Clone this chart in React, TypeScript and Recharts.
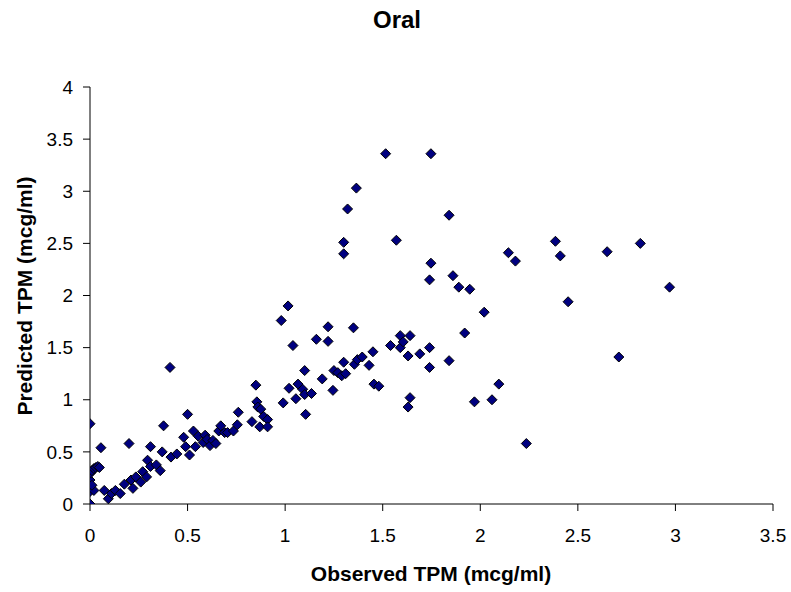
import React from "react";
import { ScatterChart, Scatter, XAxis, YAxis } from "recharts";

const observed = [
  0, 0, 0, 0, 0.005, 0.01, 0.02, 0.03, 0.04, 0.02, 0.01, 0.048, 0.056, 0.073, 0.094, 0.11, 0.13, 0.155, 0.176, 0.2,
  0.21, 0.22, 0.235, 0.26, 0.27, 0.29, 0.295, 0.31, 0.31, 0.34, 0.36, 0.377, 0.37, 0.41, 0.415, 0.445, 0.48, 0.49, 0.5, 0.51,
  0.53, 0.54, 0.555, 0.58, 0.59, 0.6, 0.615, 0.63, 0.645, 0.66, 0.67, 0.69, 0.705, 0.735, 0.755, 0.76, 0.83, 0.85, 0.855, 0.86,
  0.87, 0.875, 0.89, 0.91, 0.91, 0.98, 0.99, 1.015, 1.02, 1.04, 1.055, 1.066, 1.09, 1.1, 1.105, 1.1, 1.135, 1.16, 1.19, 1.22,
  1.22, 1.245, 1.25, 1.27, 1.29, 1.3, 1.31, 1.3, 1.3, 1.32, 1.35, 1.355, 1.365, 1.37, 1.395, 1.43, 1.45, 1.455, 1.48, 1.515,
  1.54, 1.57, 1.59, 1.59, 1.605, 1.63, 1.63, 1.64, 1.64, 1.69, 1.74, 1.74, 1.74, 1.747, 1.747, 1.84, 1.84, 1.86, 1.89, 1.92,
  1.946, 1.97, 2.02, 2.06, 2.095, 2.144, 2.18, 2.236, 2.385, 2.41, 2.45, 2.65, 2.71, 2.82, 2.97,
];
const predicted = [
  0, 0.77, 0.12, 0.23, 0.3, 0.32, 0.34, 0.35, 0.36, 0.13, 0.18, 0.35, 0.54, 0.13, 0.05, 0.1, 0.13, 0.1, 0.19, 0.58,
  0.23, 0.15, 0.26, 0.21, 0.31, 0.26, 0.42, 0.55, 0.36, 0.375, 0.32, 0.75, 0.5, 1.31, 0.45, 0.48, 0.64, 0.55, 0.86, 0.47,
  0.7, 0.55, 0.65, 0.59, 0.66, 0.62, 0.56, 0.61, 0.58, 0.7, 0.75, 0.685, 0.685, 0.7, 0.76, 0.88, 0.79, 1.14, 0.98, 0.93,
  0.74, 0.91, 0.84, 0.81, 0.74, 1.76, 0.97, 1.9, 1.11, 1.52, 1.01, 1.15, 1.1, 1.05, 0.86, 1.28, 1.06, 1.58, 1.2, 1.7,
  1.56, 1.09, 1.28, 1.26, 1.23, 1.36, 1.25, 2.51, 2.4, 2.83, 1.69, 1.34, 3.03, 1.385, 1.41, 1.33, 1.46, 1.15, 1.13, 3.36,
  1.52, 2.53, 1.5, 1.615, 1.555, 1.42, 0.93, 1.615, 1.02, 1.44, 2.15, 1.5, 1.31, 3.36, 2.31, 2.77, 1.375, 2.19, 2.08, 1.64,
  2.06, 0.98, 1.84, 1.0, 1.15, 2.41, 2.33, 0.58, 2.52, 2.38, 1.94, 2.42, 1.41, 2.5, 2.08,
];
const xTicks = [0, 0.5, 1, 1.5, 2, 2.5, 3, 3.5];
const yTicks = [0, 0.5, 1, 1.5, 2, 2.5, 3, 3.5, 4];
const title = "Oral";
const xLabel = "Observed TPM (mcg/ml)";
const yLabel = "Predicted TPM (mcg/ml)";

const data = observed.map((x, i) => ({ x, y: predicted[i] }));

const FONT = "'Liberation Sans', Arial, sans-serif";

const Diamond = (props: any) => {
  const { cx, cy } = props;
  if (cx == null || cy == null) return null;
  const r = 5;
  return (
    <path
      d={`M${cx},${cy - r}L${cx + r},${cy}L${cx},${cy + r}L${cx - r},${cy}Z`}
      fill="#000080"
      stroke="#000000"
      strokeWidth={1}
    />
  );
};

export default function App() {
  return (
    <div style={{ position: "absolute", left: 0, top: 0, width: 791, height: 592, background: "#fff", fontFamily: FONT }}>
      <ScatterChart width={791} height={592} margin={{ top: 87, right: 18, bottom: 0, left: 0 }}>
        <XAxis
          type="number"
          dataKey="x"
          domain={[0, 3.5]}
          ticks={xTicks}
          height={88}
          tickSize={7}
          tickMargin={18}
          stroke="#000"
          tick={{ fill: "#000", fontSize: 19, fontFamily: FONT }}
          allowDataOverflow
        />
        <YAxis
          type="number"
          dataKey="y"
          domain={[0, 4]}
          ticks={yTicks}
          width={90}
          tickSize={7}
          tickMargin={10}
          stroke="#000"
          tick={{ fill: "#000", fontSize: 19, fontFamily: FONT }}
          allowDataOverflow
        />
        <Scatter data={data} shape={Diamond} isAnimationActive={false} />
      </ScatterChart>
      <div style={{ position: "absolute", left: 197, width: 400, top: 6, textAlign: "center", fontWeight: "bold", fontSize: 24, lineHeight: "28px" }}>
        {title}
      </div>
      <div style={{ position: "absolute", left: 231, width: 400, top: 562, textAlign: "center", fontWeight: "bold", fontSize: 21, lineHeight: "24px" }}>
        {xLabel}
      </div>
      <div
        style={{
          position: "absolute",
          left: 25 - 150,
          top: 296 - 12,
          width: 300,
          textAlign: "center",
          fontWeight: "bold",
          fontSize: 21,
          lineHeight: "24px",
          transform: "rotate(-90deg)",
          transformOrigin: "150px 12px",
        }}
      >
        {yLabel}
      </div>
    </div>
  );
}
